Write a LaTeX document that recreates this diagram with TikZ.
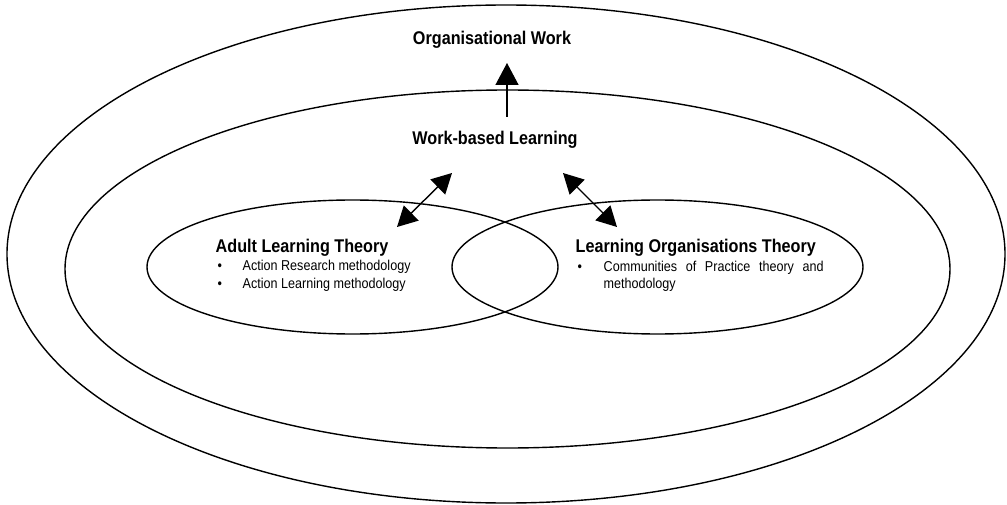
\documentclass[tikz,border=0pt]{standalone}
\usepackage{fontspec}
\setmainfont{Liberation Sans}[FakeStretch=0.88]
\usetikzlibrary{shapes.geometric,arrows.meta}

\begin{document}
\begin{tikzpicture}[x=1pt, y=-1pt, line width=1.4pt,
    ring/.style={draw, ellipse, inner sep=0pt},
    heading/.style={font=\fontsize{18.4}{21}\selectfont\bfseries, inner sep=0pt},
    body/.style={font=\fontsize{14.3}{17}\selectfont, inner sep=0pt, anchor=base west},
    uparrow/.style={-{Triangle[length=22pt,width=23pt]}},
    twoway/.style={{Triangle[length=20pt,width=21pt]}-{Triangle[length=20pt,width=21pt]}}]
    \useasboundingbox (0,0) rectangle (1007,505);
    % the rings
    \node[ring, minimum width=998pt, minimum height=498pt] (orgring) at (506,254) {};
    \node[ring, minimum width=885pt, minimum height=358pt] (wblring) at (507.5,269) {};
    \node[ring, minimum width=411pt, minimum height=134pt] (adultring) at (352.5,267) {};
    \node[ring, minimum width=411pt, minimum height=134pt] (lorgring) at (657.5,267) {};
    % titles
    \node[heading, anchor=base] (orgwork) at (492,45) {Organisational Work};
    \node[heading, anchor=base] (wbl) at (495,145) {Work-based Learning};
    \node[heading, anchor=base west] (adult) at (215,253) {Adult Learning Theory};
    \node[heading, anchor=base west] (lorg) at (575,253) {Learning Organisations Theory};
    % bullets
    \node[body] (b1) at (217,271) {•};
    \node[body] (ar) at (242,271) {Action Research methodology};
    \node[body] (b2) at (217,288) {•};
    \node[body] (al) at (242,288) {Action Learning methodology};
    \node[body] (b3) at (577,272) {•};
    \node[body, anchor=base west] (cop) at (603,272) {\parbox[t]{220pt}{\hyphenpenalty=10000\tolerance=10000
        Communities of Practice theory and methodology}};
    % arrows
    \coordinate (wbltop) at (507,117);
    \coordinate (orgbot) at (507,63);
    \coordinate (adultend) at (397,227);
    \coordinate (lefttip) at (452,173);
    \coordinate (righttip) at (563,173);
    \coordinate (lorgend) at (617,227);
    \draw[uparrow] (wbltop) -- (orgbot);
    \draw[twoway] (adultend) -- (lefttip);
    \draw[twoway] (righttip) -- (lorgend);
\end{tikzpicture}
\end{document}
